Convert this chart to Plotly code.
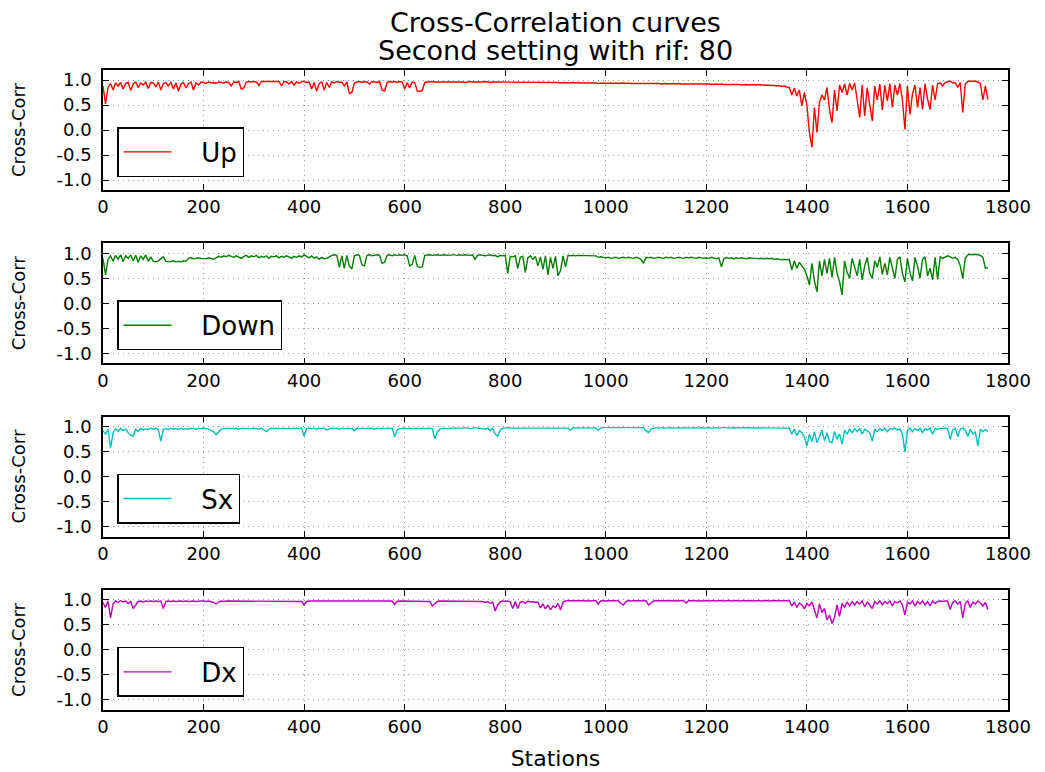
import plotly.graph_objects as go
from plotly.subplots import make_subplots

stations = list(range(0, 1761, 5))

up = [
    0.88, 0.52, 0.85, 0.93, 0.80, 0.94, 0.88, 0.95, 0.82, 0.93, 0.95, 0.79, 0.92, 0.96, 0.85, 0.94, 0.90, 0.96, 0.83, 0.95,
    0.94, 0.86, 0.96, 0.80, 0.93, 0.95, 0.88, 0.96, 0.82, 0.94, 0.78, 0.92, 0.95, 0.84, 0.93, 0.96, 0.80, 0.94, 0.90, 0.96,
    0.95, 0.93, 0.96, 0.94, 0.95, 0.93, 0.96, 0.95, 0.94, 0.96, 0.95, 0.88, 0.96, 0.95, 0.97, 0.82, 0.84, 0.96, 0.97, 0.96,
    0.97, 0.96, 0.89, 0.97, 0.97, 0.96, 0.97, 0.97, 0.96, 0.97, 0.97, 0.88, 0.97, 0.96, 0.92, 0.97, 0.90, 0.96, 0.93, 0.97,
    0.97, 0.95, 0.96, 0.82, 0.95, 0.78, 0.93, 0.96, 0.80, 0.95, 0.85, 0.96, 0.94, 0.97, 0.95, 0.96, 0.88, 0.96, 0.73, 0.75,
    0.94, 0.96, 0.97, 0.95, 0.97, 0.96, 0.92, 0.97, 0.96, 0.95, 0.97, 0.80, 0.78, 0.95, 0.97, 0.96, 0.97, 0.95, 0.97, 0.96,
    0.82, 0.95, 0.84, 0.96, 0.95, 0.78, 0.77, 0.79, 0.95, 0.96, 0.96, 0.97, 0.96, 0.96, 0.97, 0.96, 0.96, 0.97, 0.96, 0.96,
    0.96, 0.97, 0.96, 0.96, 0.95, 0.96, 0.97, 0.96, 0.96, 0.95, 0.96, 0.96, 0.97, 0.96, 0.95, 0.96, 0.96, 0.95, 0.96, 0.96,
    0.95, 0.96, 0.96, 0.95, 0.96, 0.95, 0.96, 0.96, 0.95, 0.95, 0.96, 0.95, 0.96, 0.95, 0.95, 0.96, 0.95, 0.95, 0.96, 0.95,
    0.95, 0.95, 0.94, 0.95, 0.95, 0.94, 0.95, 0.95, 0.94, 0.95, 0.94, 0.94, 0.95, 0.94, 0.94, 0.95, 0.94, 0.93, 0.94, 0.94,
    0.93, 0.94, 0.94, 0.93, 0.94, 0.93, 0.94, 0.94, 0.93, 0.94, 0.93, 0.93, 0.94, 0.93, 0.93, 0.94, 0.93, 0.93, 0.94, 0.93,
    0.93, 0.93, 0.92, 0.93, 0.93, 0.92, 0.93, 0.93, 0.92, 0.93, 0.92, 0.92, 0.93, 0.92, 0.92, 0.93, 0.92, 0.92, 0.93, 0.92,
    0.92, 0.92, 0.91, 0.92, 0.92, 0.91, 0.92, 0.91, 0.91, 0.92, 0.91, 0.91, 0.92, 0.91, 0.90, 0.91, 0.91, 0.90, 0.91, 0.91,
    0.90, 0.91, 0.90, 0.90, 0.89, 0.90, 0.89, 0.89, 0.88, 0.89, 0.87, 0.88, 0.86, 0.85, 0.70, 0.84, 0.68, 0.80, 0.48, 0.75,
    0.50, -0.05, -0.35, 0.45, -0.05, 0.55, 0.70, 0.60, 0.85, 0.40, 0.15, 0.80, 0.38, 0.90, 0.75, 0.92, 0.70, 0.93, 0.80, 0.94,
    0.60, 0.25, 0.90, 0.28, 0.85, 0.55, 0.18, 0.88, 0.60, 0.92, 0.40, 0.90, 0.58, 0.93, 0.45, 0.90, 0.70, 0.93, 0.60, 0.01,
    0.88, 0.31, 0.72, 0.90, 0.45, 0.85, 0.41, 0.93, 0.62, 0.41, 0.90, 0.60, 0.93, 0.94, 0.88, 0.95, 0.97, 0.98, 0.94, 0.95,
    0.85, 0.95, 0.35, 0.92, 0.97, 0.98, 0.97, 0.98, 0.96, 0.93, 0.60, 0.88, 0.61,
]

down = [
    0.90, 0.57, 0.88, 0.95, 0.84, 0.96, 0.88, 0.97, 0.83, 0.95, 0.90, 0.97, 0.85, 0.96, 0.82, 0.95, 0.88, 0.97, 0.84, 0.93,
    0.84, 0.83, 0.85, 0.90, 0.93, 0.84, 0.83, 0.84, 0.85, 0.83, 0.84, 0.83, 0.85, 0.84, 0.90, 0.91, 0.89, 0.90, 0.91, 0.90,
    0.90, 0.89, 0.91, 0.90, 0.88, 0.91, 0.94, 0.92, 0.95, 0.93, 0.96, 0.94, 0.92, 0.95, 0.93, 0.90, 0.94, 0.96, 0.92, 0.95,
    0.93, 0.96, 0.91, 0.94, 0.92, 0.95, 0.90, 0.94, 0.93, 0.95, 0.91, 0.94, 0.92, 0.95, 0.93, 0.90, 0.94, 0.92, 0.95, 0.93,
    0.97, 0.94, 0.91, 0.95, 0.90, 0.93, 0.88, 0.92, 0.89, 0.90, 0.93, 0.96, 0.97, 0.96, 0.72, 0.95, 0.70, 0.96, 0.74, 0.69,
    0.95, 0.97, 0.96, 0.77, 0.75, 0.96, 0.97, 0.95, 0.96, 0.97, 0.96, 0.80, 0.82, 0.96, 0.97, 0.95, 0.97, 0.96, 0.97, 0.96,
    0.97, 0.95, 0.75, 0.78, 0.96, 0.74, 0.72, 0.73, 0.96, 0.97, 0.97, 0.96, 0.97, 0.97, 0.96, 0.97, 0.97, 0.96, 0.97, 0.97,
    0.97, 0.96, 0.97, 0.96, 0.97, 0.96, 0.96, 0.97, 0.88, 0.96, 0.97, 0.96, 0.95, 0.96, 0.97, 0.95, 0.96, 0.93, 0.96, 0.95,
    0.96, 0.60, 0.94, 0.93, 0.95, 0.70, 0.92, 0.94, 0.62, 0.91, 0.95, 0.88, 0.94, 0.75, 0.93, 0.68, 0.95, 0.57, 0.92, 0.70,
    0.94, 0.55, 0.66, 0.95, 0.73, 0.96, 0.95, 0.96, 0.95, 0.96, 0.96, 0.95, 0.96, 0.95, 0.95, 0.96, 0.95, 0.92, 0.93, 0.92,
    0.91, 0.92, 0.90, 0.91, 0.92, 0.90, 0.91, 0.92, 0.91, 0.92, 0.91, 0.90, 0.92, 0.91, 0.88, 0.80, 0.92, 0.91, 0.92, 0.90,
    0.91, 0.92, 0.91, 0.90, 0.92, 0.91, 0.92, 0.90, 0.91, 0.92, 0.91, 0.90, 0.92, 0.91, 0.92, 0.91, 0.90, 0.92, 0.91, 0.90,
    0.91, 0.90, 0.92, 0.91, 0.89, 0.91, 0.73, 0.90, 0.91, 0.90, 0.91, 0.89, 0.91, 0.90, 0.91, 0.90, 0.89, 0.91, 0.90, 0.90,
    0.90, 0.89, 0.90, 0.89, 0.90, 0.89, 0.90, 0.88, 0.89, 0.88, 0.87, 0.88, 0.87, 0.88, 0.67, 0.85, 0.70, 0.82, 0.76, 0.68,
    0.55, 0.37, 0.80, 0.45, 0.23, 0.85, 0.55, 0.88, 0.60, 0.90, 0.52, 0.92, 0.60, 0.43, 0.17, 0.85, 0.62, 0.50, 0.90, 0.70,
    0.55, 0.88, 0.47, 0.75, 0.92, 0.60, 0.50, 0.85, 0.72, 0.93, 0.58, 0.80, 0.57, 0.92, 0.68, 0.50, 0.88, 0.93, 0.60, 0.43,
    0.90, 0.62, 0.45, 0.92, 0.75, 0.50, 0.88, 0.93, 0.55, 0.70, 0.47, 0.92, 0.48, 0.93, 0.90, 0.92, 0.95, 0.93, 0.90, 0.92,
    0.88, 0.75, 0.50, 0.90, 0.97, 0.98, 0.97, 0.98, 0.97, 0.96, 0.92, 0.70, 0.72,
]

sx = [
    0.92, 0.85, 0.95, 0.57, 0.88, 0.96, 0.90, 0.97, 0.92, 0.95, 0.88, 0.83, 0.81, 0.95, 0.90, 0.97, 0.93, 0.96, 0.94, 0.97,
    0.95, 0.97, 0.94, 0.71, 0.95, 0.96, 0.94, 0.97, 0.95, 0.96, 0.94, 0.97, 0.95, 0.96, 0.95, 0.97, 0.96, 0.95, 0.97, 0.96,
    0.97, 0.96, 0.95, 0.92, 0.90, 0.84, 0.90, 0.95, 0.96, 0.97, 0.96, 0.97, 0.96, 0.97, 0.95, 0.97, 0.96, 0.97, 0.96, 0.97,
    0.97, 0.96, 0.95, 0.97, 0.94, 0.90, 0.95, 0.97, 0.96, 0.97, 0.96, 0.97, 0.97, 0.96, 0.97, 0.96, 0.97, 0.97, 0.96, 0.97,
    0.81, 0.96, 0.97, 0.96, 0.97, 0.95, 0.97, 0.96, 0.97, 0.93, 0.96, 0.97, 0.96, 0.97, 0.95, 0.97, 0.96, 0.97, 0.96, 0.97,
    0.92, 0.97, 0.96, 0.97, 0.96, 0.97, 0.96, 0.97, 0.95, 0.97, 0.96, 0.97, 0.96, 0.97, 0.96, 0.97, 0.80, 0.93, 0.96, 0.97,
    0.97, 0.96, 0.97, 0.96, 0.97, 0.97, 0.96, 0.97, 0.96, 0.97, 0.97, 0.96, 0.76, 0.90, 0.95, 0.96, 0.97, 0.96, 0.97, 0.97,
    0.97, 0.97, 0.96, 0.97, 0.98, 0.97, 0.96, 0.97, 0.98, 0.97, 0.97, 0.96, 0.95, 0.97, 0.92, 0.97, 0.85, 0.81, 0.93, 0.97,
    0.97, 0.98, 0.97, 0.97, 0.98, 0.97, 0.97, 0.98, 0.97, 0.98, 0.97, 0.97, 0.98, 0.97, 0.98, 0.97, 0.97, 0.98, 0.97, 0.98,
    0.97, 0.98, 0.97, 0.98, 0.97, 0.97, 0.93, 0.98, 0.97, 0.98, 0.97, 0.98, 0.97, 0.98, 0.97, 0.97, 0.98, 0.93, 0.97, 0.98,
    0.98, 0.97, 0.98, 0.97, 0.98, 0.97, 0.98, 0.98, 0.97, 0.98, 0.97, 0.98, 0.97, 0.98, 0.97, 0.98, 0.92, 0.88, 0.95, 0.97,
    0.98, 0.97, 0.98, 0.98, 0.97, 0.98, 0.98, 0.97, 0.98, 0.98, 0.97, 0.98, 0.98, 0.97, 0.98, 0.98, 0.97, 0.98, 0.98, 0.97,
    0.98, 0.98, 0.97, 0.98, 0.98, 0.97, 0.98, 0.98, 0.98, 0.97, 0.98, 0.98, 0.97, 0.98, 0.98, 0.97, 0.98, 0.98, 0.98, 0.97,
    0.98, 0.98, 0.97, 0.98, 0.98, 0.97, 0.98, 0.98, 0.97, 0.98, 0.98, 0.97, 0.98, 0.97, 0.85, 0.95, 0.82, 0.92, 0.88, 0.80,
    0.61, 0.85, 0.70, 0.90, 0.68, 0.82, 0.93, 0.72, 0.88, 0.70, 0.68, 0.90, 0.75, 0.85, 0.65, 0.93, 0.85, 0.95, 0.88, 0.96,
    0.90, 0.96, 0.85, 0.95, 0.92, 0.88, 0.71, 0.95, 0.90, 0.96, 0.92, 0.97, 0.90, 0.96, 0.95, 0.97, 0.93, 0.96, 0.85, 0.49,
    0.93, 0.97, 0.90, 0.96, 0.92, 0.97, 0.88, 0.96, 0.93, 0.97, 0.85, 0.96, 0.95, 0.97, 0.96, 0.97, 0.96, 0.75, 0.93, 0.97,
    0.80, 0.95, 0.97, 0.93, 0.81, 0.95, 0.85, 0.90, 0.61, 0.95, 0.90, 0.94, 0.90,
]

dx = [
    0.95, 0.85, 0.98, 0.64, 0.92, 0.98, 0.95, 0.99, 0.96, 0.98, 0.93, 0.97, 0.83, 0.90, 0.97, 0.98, 0.96, 0.98, 0.97, 0.98,
    0.97, 0.98, 0.97, 0.98, 0.83, 0.97, 0.98, 0.97, 0.98, 0.97, 0.98, 0.98, 0.97, 0.98, 0.97, 0.98, 0.98, 0.97, 0.98, 0.98,
    0.98, 0.97, 0.98, 0.97, 0.95, 0.92, 0.96, 0.98, 0.97, 0.98, 0.98, 0.97, 0.98, 0.98, 0.97, 0.98, 0.98, 0.97, 0.98, 0.98,
    0.98, 0.97, 0.98, 0.98, 0.97, 0.98, 0.98, 0.97, 0.98, 0.98, 0.97, 0.98, 0.98, 0.97, 0.98, 0.98, 0.97, 0.98, 0.98, 0.97,
    0.90, 0.97, 0.98, 0.98, 0.97, 0.98, 0.98, 0.97, 0.98, 0.98, 0.97, 0.98, 0.98, 0.97, 0.98, 0.98, 0.97, 0.98, 0.98, 0.97,
    0.98, 0.98, 0.97, 0.98, 0.98, 0.97, 0.98, 0.98, 0.97, 0.98, 0.98, 0.97, 0.98, 0.98, 0.97, 0.98, 0.91, 0.97, 0.98, 0.98,
    0.98, 0.97, 0.98, 0.98, 0.97, 0.98, 0.98, 0.97, 0.98, 0.98, 0.97, 0.88, 0.93, 0.97, 0.98, 0.98, 0.97, 0.98, 0.98, 0.97,
    0.98, 0.98, 0.97, 0.98, 0.98, 0.97, 0.98, 0.98, 0.97, 0.98, 0.98, 0.97, 0.95, 0.97, 0.93, 0.96, 0.78, 0.90, 0.96, 0.98,
    0.97, 0.98, 0.96, 0.83, 0.97, 0.83, 0.96, 0.97, 0.93, 0.98, 0.96, 0.97, 0.95, 0.96, 0.84, 0.92, 0.82, 0.90, 0.80, 0.88,
    0.85, 0.93, 0.80, 0.96, 0.98, 0.99, 0.98, 0.99, 0.98, 0.99, 0.98, 0.99, 0.98, 0.99, 0.98, 0.98, 0.99, 0.92, 0.98, 0.99,
    0.98, 0.99, 0.98, 0.99, 0.98, 0.99, 0.93, 0.90, 0.97, 0.99, 0.98, 0.99, 0.98, 0.99, 0.98, 0.99, 0.98, 0.90, 0.94, 0.98,
    0.99, 0.98, 0.99, 0.98, 0.99, 0.98, 0.99, 0.98, 0.99, 0.98, 0.99, 0.98, 0.94, 0.99, 0.98, 0.99, 0.98, 0.99, 0.98, 0.99,
    0.99, 0.98, 0.99, 0.99, 0.98, 0.99, 0.99, 0.98, 0.99, 0.99, 0.98, 0.99, 0.99, 0.98, 0.99, 0.99, 0.98, 0.99, 0.99, 0.98,
    0.99, 0.99, 0.98, 0.99, 0.99, 0.98, 0.99, 0.99, 0.98, 0.99, 0.98, 0.99, 0.98, 0.99, 0.88, 0.96, 0.85, 0.94, 0.90, 0.82,
    0.93, 0.88, 0.96, 0.80, 0.64, 0.92, 0.75, 0.83, 0.60, 0.70, 0.53, 0.65, 0.90, 0.67, 0.93, 0.85, 0.96, 0.88, 0.97, 0.90,
    0.97, 0.92, 0.98, 0.86, 0.96, 0.90, 0.83, 0.97, 0.92, 0.98, 0.90, 0.97, 0.93, 0.98, 0.88, 0.97, 0.94, 0.98, 0.90, 0.70,
    0.96, 0.92, 0.98, 0.88, 0.97, 0.92, 0.98, 0.90, 0.97, 0.88, 0.98, 0.93, 0.97, 0.98, 0.97, 0.98, 0.98, 0.81, 0.95, 0.98,
    0.92, 0.97, 0.64, 0.93, 0.98, 0.85, 0.96, 0.92, 0.98, 0.94, 0.88, 0.95, 0.81,
]

series_names = ["Up", "Down", "Sx", "Dx"]
series_values = [up, down, sx, dx]
series_colors = ["#ff0000", "#008000", "#00bfbf", "#bf00bf"]
x_ticks = [0, 200, 400, 600, 800, 1000, 1200, 1400, 1600, 1800]
y_ticks = [-1.0, -0.5, 0.0, 0.5, 1.0]
y_tick_labels = ["-1.0", "-0.5", "0.0", "0.5", "1.0"]
title_lines = ["Cross-Correlation curves", "Second setting with rif: 80"]

# The page body has an 8px margin, so the figure is drawn 8px smaller
OFF = 8
W, H = 1045 - OFF, 772 - OFF
ML, MR, MT, MB = 103 - OFF, 37, 70 - OFF, 62
plot_w = W - ML - MR
plot_h = H - MT - MB
sub_h = 120
step = 173.33

fig = make_subplots(rows=4, cols=1)
FONT = "DejaVu Sans"
NBSP = "\u00a0"


def py(page_y):
    """page pixel y -> paper coordinate"""
    return (H - MB - (page_y - OFF)) / plot_h


for i, (name, vals, col) in enumerate(zip(series_names, series_values, series_colors)):
    leg = "legend" if i == 0 else f"legend{i+1}"
    fig.add_trace(go.Scatter(x=stations, y=vals, mode="lines", name=NBSP * 3 + name,
                             line=dict(color=col, width=1.4), legend=leg),
                  row=i + 1, col=1)
    top_px = 70 + i * step
    bot_px = top_px + sub_h
    ax_suffix = "" if i == 0 else str(i + 1)
    fig.layout["yaxis" + ax_suffix].update(
        domain=[py(bot_px), py(top_px)], range=[-1.2, 1.2], automargin=False,
        tickvals=y_ticks, ticktext=y_tick_labels,
        showline=True, linecolor="black", linewidth=1.5, mirror="ticks",
        ticks="inside", ticklen=6, tickcolor="black", ticklabelstandoff=6,
        showgrid=True, gridcolor="#9a9a9a", griddash="1px,4px", gridwidth=1,
        zeroline=False, tickfont=dict(size=18, color="black", family=FONT),
        title=dict(text="Cross-Corr", font=dict(size=18, color="black", family=FONT), standoff=26),
    )
    fig.layout["xaxis" + ax_suffix].update(
        range=[0, 1800], tickvals=x_ticks, automargin=False,
        showline=True, linecolor="black", linewidth=1.5, mirror="ticks",
        ticks="inside", ticklen=6, tickcolor="black",
        showgrid=True, gridcolor="#9a9a9a", griddash="1px,4px", gridwidth=1,
        zeroline=False, tickfont=dict(size=18, color="black", family=FONT),
    )
    fig.layout[leg] = dict(
        x=(117 - 103) / plot_w, y=py(bot_px - 13),
        xanchor="left", yanchor="bottom",
        bgcolor="white", bordercolor="black", borderwidth=1.5,
        itemwidth=48,
        font=dict(size=26, color="black", family=FONT),
    )

fig.layout["xaxis4"].title = dict(text="Stations", font=dict(size=22, color="black", family=FONT), standoff=14)

for txt, ypx in zip(title_lines, [22, 50]):
    fig.add_annotation(text=txt, xref="paper", yref="paper", x=0.5, y=py(ypx),
                       xanchor="center", yanchor="middle", showarrow=False,
                       font=dict(size=27, color="black", family=FONT))

fig.update_layout(
    width=W, height=H,
    margin=dict(l=ML, r=MR, t=MT, b=MB, autoexpand=False),
    paper_bgcolor="white", plot_bgcolor="white",
    showlegend=True,
    font=dict(family=FONT, color="black"),
)

fig.write_html("out.html")
